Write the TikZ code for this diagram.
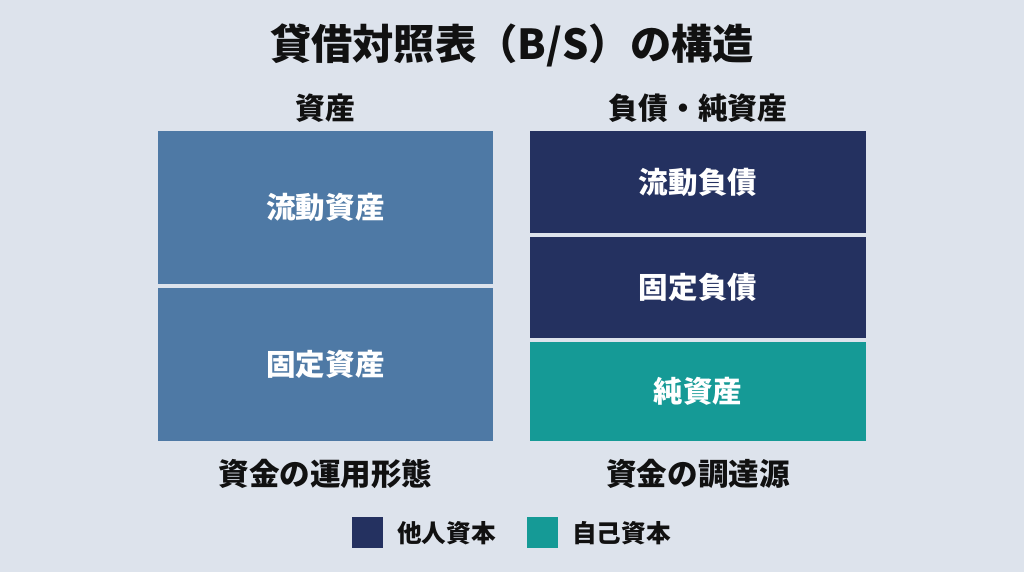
\documentclass[tikz,border=0pt]{standalone}
\usepackage{fontspec}
\setmainfont{Noto Sans CJK JP}
\usepackage{tikz}
\definecolor{bgcol}{HTML}{DDE3EC}
\definecolor{assetcol}{HTML}{4E79A5}
\definecolor{debtcol}{HTML}{243160}
\definecolor{equitycol}{HTML}{159A96}
\definecolor{inkcol}{HTML}{111111}

\begin{document}
\begin{tikzpicture}[
    block/.style={minimum width=#1,inner sep=0pt,text=white,font=\bfseries\fontsize{16.8}{18}\selectfont},
    head/.style={text=inkcol,font=\bfseries\fontsize{17}{18}\selectfont},
    keybox/.style={minimum width=0.62cm,minimum height=0.62cm,inner sep=0pt}
  ]
  \fill[bgcol] (0,0) rectangle (20.48,11.44);
  \useasboundingbox (0,0) rectangle (20.48,11.44);
  \node[text=inkcol,font=\bfseries\fontsize{23.5}{26}\selectfont] (title) at (10.24,10.54) {貸借対照表（B/S）の構造};
  % left side
  \node[head] (assets) at (6.51,9.28) {資産};
  \node[block=6.7cm,minimum height=3.06cm,fill=assetcol] (curasset) at (6.51,7.29) {流動資産};
  \node[block=6.7cm,minimum height=3.06cm,fill=assetcol] (fixasset) at (6.51,4.15) {固定資産};
  \node[head,font=\bfseries\fontsize{17.4}{18}\selectfont] (use) at (6.51,1.96) {資金の運用形態};
  % right side
  \node[head] (liabeq) at (13.96,9.28) {負債・純資産};
  \node[block=6.72cm,minimum height=2.04cm,fill=debtcol] (curdebt) at (13.96,7.80) {流動負債};
  \node[block=6.72cm,minimum height=2.02cm,fill=debtcol] (fixdebt) at (13.96,5.69) {固定負債};
  \node[block=6.72cm,minimum height=1.98cm,fill=equitycol] (equity) at (13.96,3.61) {純資産};
  \node[head,font=\bfseries\fontsize{17.4}{18}\selectfont] (source) at (13.96,1.96) {資金の調達源};
  % legend
  \node[keybox,fill=debtcol] (keydebt) at (7.35,0.78) {};
  \node[anchor=west,inner sep=0pt,text=inkcol,font=\bfseries\fontsize{14}{16}\selectfont] (keydebttext) at (7.94,0.78) {他人資本};
  \node[keybox,fill=equitycol] (keyequity) at (10.85,0.78) {};
  \node[anchor=west,inner sep=0pt,text=inkcol,font=\bfseries\fontsize{14}{16}\selectfont] (keyequitytext) at (11.44,0.78) {自己資本};
\end{tikzpicture}
\end{document}
